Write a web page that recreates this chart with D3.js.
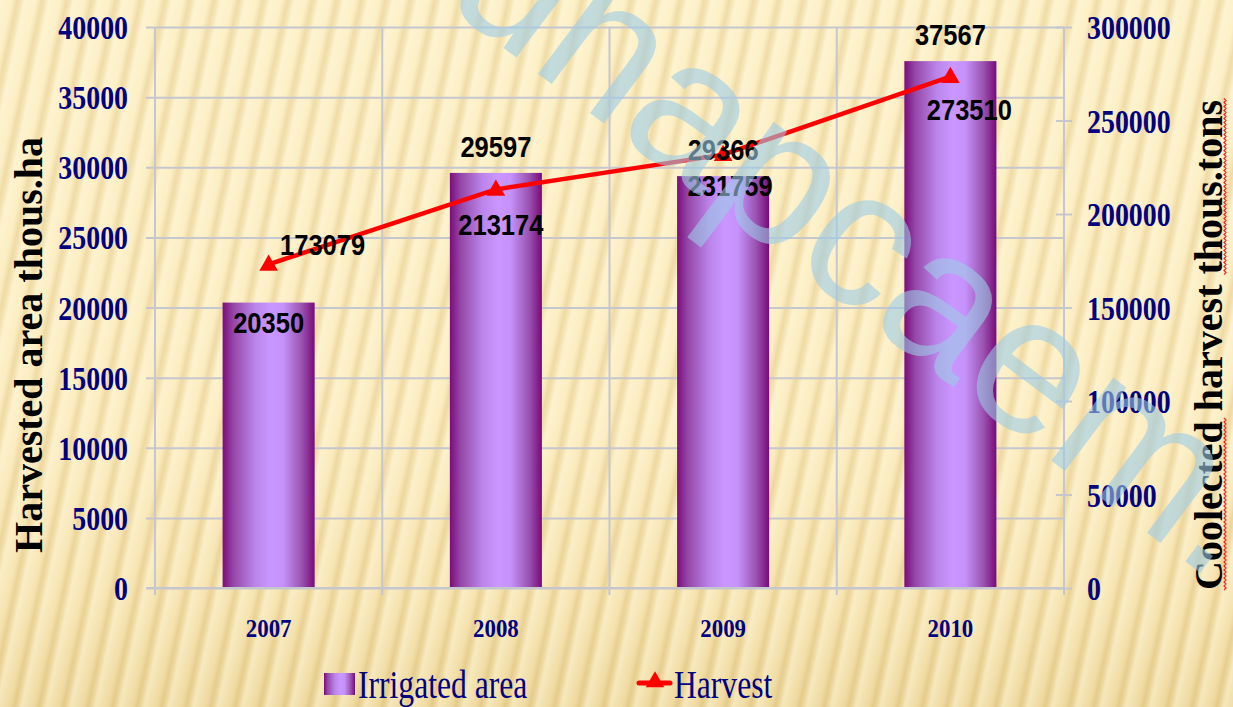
<!DOCTYPE html>
<html>
<head>
<meta charset="utf-8">
<script src="https://cdn.jsdelivr.net/npm/d3@7"></script>
<style>
  html, body { margin: 0; padding: 0; overflow: hidden; }
  svg { display: block; }
</style>
</head>
<body>
<div id="chart"></div>
<script>
// chart values
var years = ["2007", "2008", "2009", "2010"];
var irrigatedArea = [20350, 29597, 29366, 37567];
var harvest = [173079, 213174, 231759, 273510];
var leftTicks = [0, 5000, 10000, 15000, 20000, 25000, 30000, 35000, 40000];
var rightTicks = [0, 50000, 100000, 150000, 200000, 250000, 300000];

var svgWidth = 1233;
var svgHeight = 707;

var plot = { left: 155, right: 1064, top: 27, bottom: 588 };

var navy = "#000080";
var gridColor = "#c6c6cf";
var serif = "'Liberation Serif', 'Times New Roman', serif";
var sans = "'Liberation Sans', Arial, sans-serif";

var svg = d3.select("#chart")
  .append("svg")
  .attr("width", svgWidth)
  .attr("height", svgHeight);

var defs = svg.append("defs");

// background gradient + stripes
var bg = defs.append("linearGradient")
  .attr("id", "bgGrad").attr("x1", 0).attr("y1", 0).attr("x2", 0).attr("y2", 1);
bg.append("stop").attr("offset", "0%").attr("stop-color", "#fcefc4");
bg.append("stop").attr("offset", "60%").attr("stop-color", "#fbebbd");
bg.append("stop").attr("offset", "85%").attr("stop-color", "#f4e0a9");
bg.append("stop").attr("offset", "100%").attr("stop-color", "#ebd495");

var stripeGrad = defs.append("linearGradient")
  .attr("id", "stripeGrad").attr("x1", 0).attr("y1", 0).attr("x2", 1).attr("y2", 0);
stripeGrad.append("stop").attr("offset", "0%").attr("stop-color", "#fff8dc").attr("stop-opacity", 0.55);
stripeGrad.append("stop").attr("offset", "45%").attr("stop-color", "#fff6d6").attr("stop-opacity", 0.2);
stripeGrad.append("stop").attr("offset", "70%").attr("stop-color", "#d8b870").attr("stop-opacity", 0.34);
stripeGrad.append("stop").attr("offset", "100%").attr("stop-color", "#fff8dc").attr("stop-opacity", 0.55);

var stripes = defs.append("pattern")
  .attr("id", "stripes")
  .attr("patternUnits", "userSpaceOnUse")
  .attr("width", 24).attr("height", 1400)
  .attr("patternTransform", "rotate(12)");
stripes.append("rect").attr("width", 24).attr("height", 1400).attr("fill", "url(#stripeGrad)");

// bar gradient
var barGrad = defs.append("linearGradient")
  .attr("id", "barGrad").attr("x1", 0).attr("y1", 0).attr("x2", 1).attr("y2", 0);
[["0%", "#7a0c7c"], ["12%", "#9548a8"], ["35%", "#bb84ea"], ["52%", "#c997ff"],
 ["66%", "#c592fb"], ["86%", "#9a52b0"], ["100%", "#780a7a"]].forEach(function(s) {
  barGrad.append("stop").attr("offset", s[0]).attr("stop-color", s[1]);
});

svg.append("rect").attr("width", svgWidth).attr("height", svgHeight).attr("fill", "url(#bgGrad)");
svg.append("rect").attr("width", svgWidth).attr("height", svgHeight).attr("fill", "url(#stripes)");

// scales
var xScale = d3.scaleBand()
  .domain(years)
  .range([plot.left, plot.right])
  .paddingInner(0.595)
  .paddingOuter(0.2975);

var yLeft = d3.scaleLinear().domain([0, 40000]).range([plot.bottom, plot.top]);
var yRight = d3.scaleLinear().domain([0, 300000]).range([plot.bottom, plot.top]);

// squeeze glyphs horizontally, the source text looks condensed
function condense(sel, k) {
  sel.each(function() {
    var w = this.getComputedTextLength();
    d3.select(this).attr("textLength", w * k).attr("lengthAdjust", "spacingAndGlyphs");
  });
}

// left axis with gridlines
var leftAxis = d3.axisLeft(yLeft)
  .tickValues(leftTicks)
  .tickSizeInner(-(plot.right - plot.left))
  .tickSizeOuter(0)
  .tickPadding(27)
  .tickFormat(d3.format("d"));

var gLeft = svg.append("g")
  .attr("transform", `translate(${plot.left}, 0)`)
  .call(leftAxis);
gLeft.select(".domain").remove();
gLeft.selectAll(".tick line")
  .attr("x1", -9)
  .attr("stroke", gridColor)
  .attr("stroke-width", 2);
gLeft.selectAll(".tick text")
  .attr("fill", navy)
  .attr("font-family", serif)
  .attr("font-weight", "bold")
  .attr("font-size", "34px")
  .attr("dy", "0.34em")
  .call(condense, 0.82);

// vertical gridlines at category boundaries
var step = xScale.step();
var bounds = years.slice(1).map(function(d) {
  return xScale(d) + xScale.bandwidth() / 2 - step / 2;
});
svg.append("g").selectAll("line")
  .data(bounds)
  .enter()
  .append("line")
  .attr("x1", d => d).attr("x2", d => d)
  .attr("y1", plot.top).attr("y2", plot.bottom + 7)
  .attr("stroke", gridColor)
  .attr("stroke-width", 2);

// bars
svg.append("g").selectAll("rect")
  .data(irrigatedArea)
  .enter()
  .append("rect")
  .attr("x", (d, i) => xScale(years[i]))
  .attr("y", d => yLeft(d))
  .attr("width", xScale.bandwidth())
  .attr("height", d => plot.bottom - yLeft(d))
  .attr("fill", "url(#barGrad)");

// axis lines
svg.append("line")
  .attr("x1", plot.left - 9).attr("x2", plot.right)
  .attr("y1", plot.bottom).attr("y2", plot.bottom)
  .attr("stroke", gridColor).attr("stroke-width", 2);
svg.append("line")
  .attr("x1", plot.left).attr("x2", plot.left)
  .attr("y1", plot.top).attr("y2", plot.bottom + 7)
  .attr("stroke", gridColor).attr("stroke-width", 2);

// right axis
var rightAxis = d3.axisRight(yRight)
  .tickValues(rightTicks)
  .tickSizeInner(8)
  .tickSizeOuter(0)
  .tickPadding(15)
  .tickFormat(d3.format("d"));

var gRight = svg.append("g")
  .attr("transform", `translate(${plot.right}, 0)`)
  .call(rightAxis);
gRight.select(".domain")
  .attr("stroke", gridColor).attr("stroke-width", 2)
  .attr("d", `M0,${plot.top}V${plot.bottom + 7}`);
gRight.selectAll(".tick line")
  .attr("x1", -8)
  .attr("stroke", gridColor)
  .attr("stroke-width", 2);
gRight.selectAll(".tick text")
  .attr("fill", navy)
  .attr("font-family", serif)
  .attr("font-weight", "bold")
  .attr("font-size", "34px")
  .attr("dy", "0.34em")
  .call(condense, 0.82);

// category labels
var bottomAxis = d3.axisBottom(xScale).tickSize(0).tickPadding(0);
var gBottom = svg.append("g")
  .attr("transform", `translate(0, ${plot.bottom})`)
  .call(bottomAxis);
gBottom.select(".domain").remove();
gBottom.selectAll(".tick text")
  .attr("y", 49)
  .attr("dy", 0)
  .attr("fill", navy)
  .attr("font-family", serif)
  .attr("font-weight", "bold")
  .attr("font-size", "26px")
  .call(condense, 0.88);

// harvest line
var pts = harvest.map(function(d, i) {
  return [xScale(years[i]) + xScale.bandwidth() / 2, yRight(d)];
});

svg.append("path")
  .datum(pts)
  .attr("fill", "none")
  .attr("stroke", "#ff0000")
  .attr("stroke-width", 4.5)
  .attr("stroke-linejoin", "round")
  .attr("d", d3.line());

svg.append("g").selectAll("path")
  .data(pts)
  .enter()
  .append("path")
  .attr("transform", d => `translate(${d[0]}, ${d[1] + 1})`)
  .attr("d", d3.symbol(d3.symbolTriangle, 150))
  .attr("fill", "#ff0000");

// bar value labels
svg.append("g").selectAll("text")
  .data(irrigatedArea)
  .enter()
  .append("text")
  .attr("x", (d, i) => xScale(years[i]) + xScale.bandwidth() / 2)
  .attr("y", (d, i) => i === 0 ? yLeft(d) + 30 : yLeft(d) - 16)
  .attr("text-anchor", "middle")
  .attr("font-family", sans)
  .attr("font-weight", "bold")
  .attr("font-size", "30px")
  .attr("fill", "#000")
  .text(d => d)
  .call(condense, 0.85);

// harvest value labels
var harvestOffsets = [[54, -9], [5, 46], [7, 41], [19, 43]];
svg.append("g").selectAll("text")
  .data(harvest)
  .enter()
  .append("text")
  .attr("x", (d, i) => pts[i][0] + harvestOffsets[i][0])
  .attr("y", (d, i) => pts[i][1] + harvestOffsets[i][1])
  .attr("text-anchor", "middle")
  .attr("font-family", sans)
  .attr("font-weight", "bold")
  .attr("font-size", "30px")
  .attr("fill", "#000")
  .text(d => d)
  .call(condense, 0.85);

// axis titles
svg.append("text")
  .attr("transform", "translate(42, 345) rotate(-90)")
  .attr("text-anchor", "middle")
  .attr("font-family", serif)
  .attr("font-weight", "bold")
  .attr("font-size", "40px")
  .attr("fill", "#000")
  .text("Harvested area thous.ha");

var rTitle = svg.append("text")
  .attr("transform", "translate(1222, 345) rotate(-90)")
  .attr("text-anchor", "middle")
  .attr("font-family", serif)
  .attr("font-weight", "bold")
  .attr("font-size", "40px")
  .attr("fill", "#000")
  .text("Coolected harvest thous.tons");

// red spell-check squiggles under "Coolected" and "thous.tons"
(function() {
  var node = rTitle.node();
  var total = node.getComputedTextLength();
  var start = -total / 2;
  var spans = [[0, 9], [18, 10]];
  spans.forEach(function(s) {
    var a = start + node.getSubStringLength(0, s[0]);
    var len = node.getSubStringLength(s[0], s[1]);
    var p = d3.path();
    p.moveTo(a, 2);
    for (var t = 0; t < len; t += 4) {
      p.lineTo(a + t + 2, 4);
      p.lineTo(a + t + 4, 2);
    }
    svg.append("path")
      .attr("transform", "translate(1222, 345) rotate(-90)")
      .attr("d", p.toString())
      .attr("fill", "none")
      .attr("stroke", "#ff2020")
      .attr("stroke-width", 1.2);
  });
})();

// legend
var legend = svg.append("g");
legend.append("rect")
  .attr("x", 324).attr("y", 673)
  .attr("width", 31).attr("height", 22)
  .attr("fill", "url(#barGrad)");
legend.append("text")
  .attr("x", 358).attr("y", 698)
  .attr("font-family", serif)
  .attr("font-size", "40px")
  .attr("fill", navy)
  .text("Irrigated area")
  .call(condense, 0.79);
legend.append("line")
  .attr("x1", 639).attr("x2", 670)
  .attr("y1", 683).attr("y2", 683)
  .attr("stroke", "#ff0000").attr("stroke-width", 5)
  .attr("stroke-linecap", "round");
legend.append("path")
  .attr("transform", "translate(655, 682)")
  .attr("d", d3.symbol(d3.symbolTriangle, 150))
  .attr("fill", "#ff0000");
legend.append("text")
  .attr("x", 674).attr("y", 698)
  .attr("font-family", serif)
  .attr("font-size", "40px")
  .attr("fill", navy)
  .text("Harvest")
  .call(condense, 0.79);

// watermark
svg.append("text")
  .attr("transform", "translate(440, 0) rotate(37)")
  .attr("font-family", sans)
  .attr("font-size", "196px")
  .attr("fill", "#9ccbe6")
  .attr("fill-opacity", 0.6)
  .text("unapcaem.org");
</script>
</body>
</html>
